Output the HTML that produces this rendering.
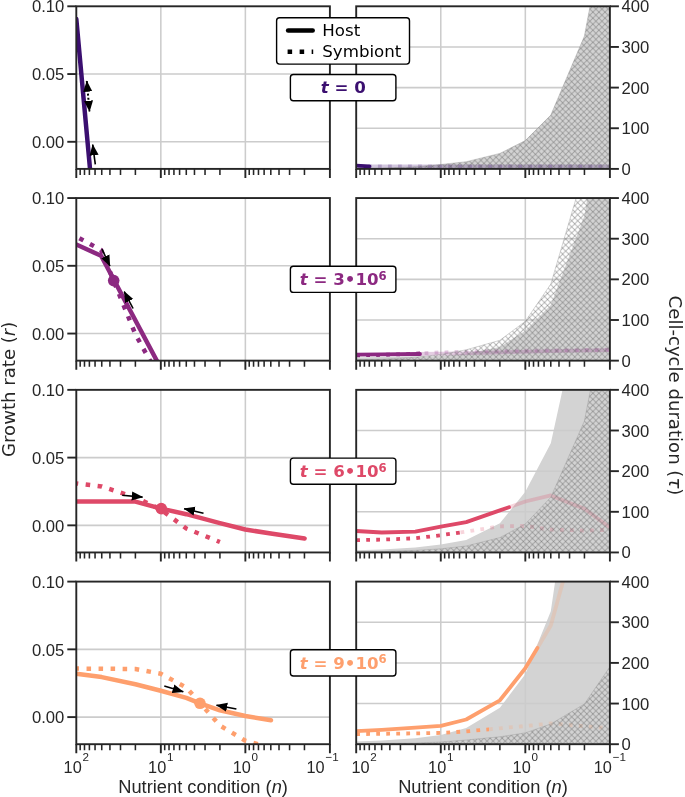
<!DOCTYPE html>
<html lang="en"><head><meta charset="utf-8"><title>Growth rate and cell-cycle duration</title>
<style>html,body{margin:0;padding:0;background:#fff}body{width:685px;height:797px;overflow:hidden}svg{display:block}
.tk{font-family:"Liberation Sans",sans-serif;font-size:16.65px;fill:#262626}
.sup{font-family:"Liberation Sans",sans-serif;font-size:11.65px;fill:#262626}
.xl{font-family:"Liberation Sans",sans-serif;font-size:18.3px;fill:#262626}
.yl{font-family:"DejaVu Sans",sans-serif;font-size:18.1px;fill:#262626}
.lg{font-family:"DejaVu Sans",sans-serif;font-size:16.65px;fill:#000}
.tt{font-family:"DejaVu Sans",sans-serif;font-size:16.65px;font-weight:bold}
</style></head><body>
<svg width="685" height="797" viewBox="0 0 685 797">
<defs>
<pattern id="hx" width="6.05" height="6.05" patternUnits="userSpaceOnUse"><path d="M-1,-1 L7.05,7.05 M-1,5.05 L1,7.05 M5.05,-1 L7.05,1" stroke="#707070" stroke-width="0.9" stroke-opacity="0.53" fill="none"/><path d="M-1,7.05 L7.05,-1 M-1,1 L1,-1 M5.05,7.05 L7.05,5.05" stroke="#707070" stroke-width="0.9" stroke-opacity="0.53" fill="none"/></pattern>
<marker id="ah" viewBox="0 0 10 10" refX="9.5" refY="5" markerWidth="11.3" markerHeight="11.3" markerUnits="userSpaceOnUse" orient="auto-start-reverse"><path d="M0,1.0 L10,5 L0,9.0 Z" fill="#000"/></marker>
<clipPath id="cl0"><rect x="76.3" y="6.3" width="253.6" height="162.6"/></clipPath>
<clipPath id="cr0"><rect x="356.2" y="6.3" width="253.7" height="162.6"/></clipPath>
<clipPath id="cl1"><rect x="76.3" y="198.1" width="253.6" height="162.6"/></clipPath>
<clipPath id="cr1"><rect x="356.2" y="198.1" width="253.7" height="162.6"/></clipPath>
<clipPath id="cl2"><rect x="76.3" y="389.9" width="253.6" height="162.6"/></clipPath>
<clipPath id="cr2"><rect x="356.2" y="389.9" width="253.7" height="162.6"/></clipPath>
<clipPath id="cl3"><rect x="76.3" y="581.6" width="253.6" height="162.6"/></clipPath>
<clipPath id="cr3"><rect x="356.2" y="581.6" width="253.7" height="162.6"/></clipPath>
</defs>
<rect width="685" height="797" fill="#fff"/>
<path d="M160.83,6.30 V168.90 M245.37,6.30 V168.90 M76.30,74.05 H329.90 M76.30,141.80 H329.90" stroke="#cccccc" stroke-width="1.55" fill="none"/>
<g clip-path="url(#cl0)">
<polyline points="76.3,18.9 90.0,168.6 92.0,190.0" fill="none" stroke="#3b0f70" stroke-width="4.5" stroke-linejoin="round" stroke-linecap="round"/>
</g>
<line x1="95.3" y1="164.4" x2="92.7" y2="144.6" stroke="#000" stroke-width="1.6" marker-end="url(#ah)"/>
<line x1="86.8" y1="81.0" x2="89.5" y2="111.4" stroke="#000" stroke-width="2" stroke-dasharray="2 2.2" marker-start="url(#ah)" marker-end="url(#ah)"/>
<g clip-path="url(#cr0)">
<polygon points="356.2,168.9 356.2,168.3 381.7,168.0 415.3,166.8 440.8,164.5 466.2,161.7 499.9,153.4 525.3,140.6 550.8,115.1 584.4,36.1 609.9,-99.0 609.9,168.9" fill="#d3d3d3"/>
</g>
<path d="M440.77,6.30 V168.90 M525.33,6.30 V168.90 M356.20,128.25 H609.90 M356.20,87.60 H609.90 M356.20,46.95 H609.90" stroke="#cccccc" stroke-width="1.55" fill="none"/>
<g clip-path="url(#cr0)">
<polyline points="357.9,166.5 609.9,166.5" fill="none" stroke="#3b0f70" stroke-opacity="0.23" stroke-width="3.8" stroke-dasharray="3.78 6.24" stroke-linejoin="round"/>
<polyline points="369.4,166.3 369.4,166.3 415.3,166.4 609.9,166.4" fill="none" stroke="#3b0f70" stroke-opacity="0.23" stroke-width="3.8" stroke-linejoin="round"/>
<polygon points="356.2,168.9 356.2,168.3 381.7,168.0 415.3,166.8 440.8,164.5 466.2,161.7 499.9,153.4 525.3,140.6 550.8,115.1 584.4,36.1 609.9,-99.0 609.9,168.9" fill="url(#hx)" stroke="#999" stroke-opacity="0.5" stroke-width="0.8"/>
</g>
<polyline clip-path="url(#cr0)" points="356.2,165.6 369.4,166.3 369.4,166.3" fill="none" stroke="#3b0f70" stroke-width="3.8" stroke-linejoin="round" stroke-linecap="round"/>
<rect x="76.30" y="6.30" width="253.60" height="162.60" fill="none" stroke="#262626" stroke-width="1.9"/>
<path d="M76.30,168.90 V177.90 M160.83,168.90 V177.90 M245.37,168.90 V177.90 M329.90,168.90 V177.90" stroke="#262626" stroke-width="1.9" fill="none"/>
<path d="M135.39,168.90 V174.90 M120.50,168.90 V174.90 M109.94,168.90 V174.90 M101.75,168.90 V174.90 M95.05,168.90 V174.90 M89.39,168.90 V174.90 M84.49,168.90 V174.90 M80.17,168.90 V174.90 M219.92,168.90 V174.90 M205.03,168.90 V174.90 M194.47,168.90 V174.90 M186.28,168.90 V174.90 M179.59,168.90 V174.90 M173.93,168.90 V174.90 M169.03,168.90 V174.90 M164.70,168.90 V174.90 M304.45,168.90 V174.90 M289.57,168.90 V174.90 M279.01,168.90 V174.90 M270.81,168.90 V174.90 M264.12,168.90 V174.90 M258.46,168.90 V174.90 M253.56,168.90 V174.90 M249.23,168.90 V174.90" stroke="#262626" stroke-width="1.55" fill="none"/>
<rect x="356.20" y="6.30" width="253.70" height="162.60" fill="none" stroke="#262626" stroke-width="1.9"/>
<path d="M356.20,168.90 V177.90 M440.77,168.90 V177.90 M525.33,168.90 V177.90 M609.90,168.90 V177.90" stroke="#262626" stroke-width="1.9" fill="none"/>
<path d="M415.31,168.90 V174.90 M400.42,168.90 V174.90 M389.85,168.90 V174.90 M381.66,168.90 V174.90 M374.96,168.90 V174.90 M369.30,168.90 V174.90 M364.40,168.90 V174.90 M360.07,168.90 V174.90 M499.88,168.90 V174.90 M484.98,168.90 V174.90 M474.42,168.90 V174.90 M466.22,168.90 V174.90 M459.53,168.90 V174.90 M453.87,168.90 V174.90 M448.96,168.90 V174.90 M444.64,168.90 V174.90 M584.44,168.90 V174.90 M569.55,168.90 V174.90 M558.99,168.90 V174.90 M550.79,168.90 V174.90 M544.09,168.90 V174.90 M538.43,168.90 V174.90 M533.53,168.90 V174.90 M529.20,168.90 V174.90" stroke="#262626" stroke-width="1.55" fill="none"/>
<path d="M67.30,6.30 H76.30" stroke="#262626" stroke-width="1.9"/>
<text class="tk" x="64.3" y="12.4" text-anchor="end">0.10</text>
<path d="M67.30,74.05 H76.30" stroke="#262626" stroke-width="1.9"/>
<text class="tk" x="64.3" y="80.1" text-anchor="end">0.05</text>
<path d="M67.30,141.80 H76.30" stroke="#262626" stroke-width="1.9"/>
<text class="tk" x="64.3" y="147.9" text-anchor="end">0.00</text>
<path d="M609.90,168.90 H618.90" stroke="#262626" stroke-width="1.9"/>
<text class="tk" x="621.5" y="174.8">0</text>
<path d="M609.90,128.25 H618.90" stroke="#262626" stroke-width="1.9"/>
<text class="tk" x="621.5" y="134.2">100</text>
<path d="M609.90,87.60 H618.90" stroke="#262626" stroke-width="1.9"/>
<text class="tk" x="621.5" y="93.6">200</text>
<path d="M609.90,46.95 H618.90" stroke="#262626" stroke-width="1.9"/>
<text class="tk" x="621.5" y="52.9">300</text>
<path d="M609.90,6.30 H618.90" stroke="#262626" stroke-width="1.9"/>
<text class="tk" x="621.5" y="12.3">400</text>
<rect x="290.4" y="74.5" width="105.5" height="26.2" rx="3" ry="3" fill="#fff" stroke="#000" stroke-width="1.4"/>
<text class="tt" x="343.2" y="93.4" text-anchor="middle" fill="#3b0f70"><tspan font-style="italic">t</tspan> = 0</text>
<path d="M160.83,198.05 V360.65 M245.37,198.05 V360.65 M76.30,265.80 H329.90 M76.30,333.55 H329.90" stroke="#cccccc" stroke-width="1.55" fill="none"/>
<g clip-path="url(#cl1)">
<polyline points="76.3,236.5 101.1,250.0 135.4,334.3 160.8,380.0" fill="none" stroke="#8c2981" stroke-width="4.5" stroke-dasharray="4.54 7.49" stroke-dashoffset="8.5" stroke-linejoin="round"/>
<polyline points="76.3,244.5 101.1,255.8 156.6,360.3 165.0,376.0" fill="none" stroke="#8c2981" stroke-width="4.5" stroke-linejoin="round" stroke-linecap="round"/>
<circle cx="113.7" cy="280.6" r="5.8" fill="#8c2981"/>
</g>
<line x1="102.0" y1="249.2" x2="109.9" y2="266.1" stroke="#000" stroke-width="1.6" marker-end="url(#ah)"/>
<line x1="133.1" y1="308.5" x2="124.2" y2="291.6" stroke="#000" stroke-width="1.6" marker-end="url(#ah)"/>
<g clip-path="url(#cr1)">
<polygon points="356.2,360.6 356.2,357.4 381.7,357.1 415.3,356.6 440.8,355.9 466.2,353.6 499.9,346.9 525.3,330.8 550.8,305.1 584.4,215.8 609.9,60.0 609.9,360.6" fill="#d3d3d3"/>
</g>
<path d="M440.77,198.05 V360.65 M525.33,198.05 V360.65 M356.20,320.00 H609.90 M356.20,279.35 H609.90 M356.20,238.70 H609.90" stroke="#cccccc" stroke-width="1.55" fill="none"/>
<g clip-path="url(#cr1)">
<polyline points="424.6,353.2 440.8,352.4 476.0,351.3 556.0,350.3 609.9,349.7" fill="none" stroke="#8c2981" stroke-opacity="0.23" stroke-width="3.8" stroke-dasharray="3.78 6.24" stroke-linejoin="round"/>
<polyline points="420.0,354.0 420.0,354.0 460.0,353.3 500.0,352.3 550.8,351.2 609.9,350.2" fill="none" stroke="#8c2981" stroke-opacity="0.23" stroke-width="3.8" stroke-linejoin="round"/>
<polygon points="356.2,360.6 356.2,359.8 381.7,359.2 415.3,357.2 440.8,354.5 466.2,349.8 499.9,340.3 525.3,321.3 550.8,284.1 584.4,170.0 609.9,0.0 609.9,360.6" fill="url(#hx)" stroke="#999" stroke-opacity="0.5" stroke-width="0.8"/>
</g>
<clipPath id="cs1"><rect x="356.2" y="198.1" width="68.4" height="162.6"/></clipPath>
<polyline clip-path="url(#cs1)" points="356.2,355.4 381.7,354.9 408.0,354.1 420.0,353.4 440.8,352.4 476.0,351.3 556.0,350.3 609.9,349.7" fill="none" stroke="#8c2981" stroke-width="3.8" stroke-dasharray="3.78 6.24" stroke-linejoin="round"/>
<polyline clip-path="url(#cr1)" points="356.2,354.7 381.7,354.4 420.0,354.0 420.0,354.0" fill="none" stroke="#8c2981" stroke-width="3.8" stroke-linejoin="round" stroke-linecap="round"/>
<rect x="76.30" y="198.05" width="253.60" height="162.60" fill="none" stroke="#262626" stroke-width="1.9"/>
<path d="M76.30,360.65 V369.65 M160.83,360.65 V369.65 M245.37,360.65 V369.65 M329.90,360.65 V369.65" stroke="#262626" stroke-width="1.9" fill="none"/>
<path d="M135.39,360.65 V366.65 M120.50,360.65 V366.65 M109.94,360.65 V366.65 M101.75,360.65 V366.65 M95.05,360.65 V366.65 M89.39,360.65 V366.65 M84.49,360.65 V366.65 M80.17,360.65 V366.65 M219.92,360.65 V366.65 M205.03,360.65 V366.65 M194.47,360.65 V366.65 M186.28,360.65 V366.65 M179.59,360.65 V366.65 M173.93,360.65 V366.65 M169.03,360.65 V366.65 M164.70,360.65 V366.65 M304.45,360.65 V366.65 M289.57,360.65 V366.65 M279.01,360.65 V366.65 M270.81,360.65 V366.65 M264.12,360.65 V366.65 M258.46,360.65 V366.65 M253.56,360.65 V366.65 M249.23,360.65 V366.65" stroke="#262626" stroke-width="1.55" fill="none"/>
<rect x="356.20" y="198.05" width="253.70" height="162.60" fill="none" stroke="#262626" stroke-width="1.9"/>
<path d="M356.20,360.65 V369.65 M440.77,360.65 V369.65 M525.33,360.65 V369.65 M609.90,360.65 V369.65" stroke="#262626" stroke-width="1.9" fill="none"/>
<path d="M415.31,360.65 V366.65 M400.42,360.65 V366.65 M389.85,360.65 V366.65 M381.66,360.65 V366.65 M374.96,360.65 V366.65 M369.30,360.65 V366.65 M364.40,360.65 V366.65 M360.07,360.65 V366.65 M499.88,360.65 V366.65 M484.98,360.65 V366.65 M474.42,360.65 V366.65 M466.22,360.65 V366.65 M459.53,360.65 V366.65 M453.87,360.65 V366.65 M448.96,360.65 V366.65 M444.64,360.65 V366.65 M584.44,360.65 V366.65 M569.55,360.65 V366.65 M558.99,360.65 V366.65 M550.79,360.65 V366.65 M544.09,360.65 V366.65 M538.43,360.65 V366.65 M533.53,360.65 V366.65 M529.20,360.65 V366.65" stroke="#262626" stroke-width="1.55" fill="none"/>
<path d="M67.30,198.05 H76.30" stroke="#262626" stroke-width="1.9"/>
<text class="tk" x="64.3" y="204.2" text-anchor="end">0.10</text>
<path d="M67.30,265.80 H76.30" stroke="#262626" stroke-width="1.9"/>
<text class="tk" x="64.3" y="271.9" text-anchor="end">0.05</text>
<path d="M67.30,333.55 H76.30" stroke="#262626" stroke-width="1.9"/>
<text class="tk" x="64.3" y="339.7" text-anchor="end">0.00</text>
<path d="M609.90,360.65 H618.90" stroke="#262626" stroke-width="1.9"/>
<text class="tk" x="621.5" y="366.6">0</text>
<path d="M609.90,320.00 H618.90" stroke="#262626" stroke-width="1.9"/>
<text class="tk" x="621.5" y="325.9">100</text>
<path d="M609.90,279.35 H618.90" stroke="#262626" stroke-width="1.9"/>
<text class="tk" x="621.5" y="285.3">200</text>
<path d="M609.90,238.70 H618.90" stroke="#262626" stroke-width="1.9"/>
<text class="tk" x="621.5" y="244.6">300</text>
<path d="M609.90,198.05 H618.90" stroke="#262626" stroke-width="1.9"/>
<text class="tk" x="621.5" y="204.0">400</text>
<rect x="290.4" y="266.2" width="105.5" height="26.2" rx="3" ry="3" fill="#fff" stroke="#000" stroke-width="1.4"/>
<text class="tt" x="343.2" y="285.2" text-anchor="middle" fill="#8c2981"><tspan font-style="italic">t</tspan> = 3•10<tspan font-size="11.65px" dy="-5.4">6</tspan></text>
<path d="M160.83,389.85 V552.45 M245.37,389.85 V552.45 M76.30,457.60 H329.90 M76.30,525.35 H329.90" stroke="#cccccc" stroke-width="1.55" fill="none"/>
<g clip-path="url(#cl2)">
<polyline points="76.3,483.4 101.7,486.5 135.4,497.4 160.8,509.5 186.3,528.5 219.9,542.0" fill="none" stroke="#de4968" stroke-width="4.5" stroke-dasharray="4.54 7.49" stroke-dashoffset="2.6" stroke-linejoin="round"/>
<polyline points="76.3,501.6 101.7,501.6 135.4,501.6 161.2,508.6 186.3,514.2 219.9,523.2 245.3,529.5 270.8,533.5 304.6,538.4" fill="none" stroke="#de4968" stroke-width="4.5" stroke-linejoin="round" stroke-linecap="round"/>
<circle cx="161.3" cy="508.6" r="5.8" fill="#de4968"/>
</g>
<line x1="122.2" y1="495.2" x2="142.5" y2="497.1" stroke="#000" stroke-width="1.6" marker-end="url(#ah)"/>
<line x1="203.5" y1="513.3" x2="184.1" y2="508.7" stroke="#000" stroke-width="1.6" marker-end="url(#ah)"/>
<g clip-path="url(#cr2)">
<polygon points="356.2,552.5 356.2,550.2 381.7,549.5 415.3,547.5 440.8,544.6 466.2,539.9 499.9,523.3 525.3,491.8 550.8,443.3 584.4,290.0 609.9,100.0 609.9,552.5" fill="#d3d3d3"/>
</g>
<path d="M440.77,389.85 V552.45 M525.33,389.85 V552.45 M356.20,511.80 H609.90 M356.20,471.15 H609.90 M356.20,430.50 H609.90" stroke="#cccccc" stroke-width="1.55" fill="none"/>
<g clip-path="url(#cr2)">
<polyline points="460.5,532.4 466.2,531.6 499.9,526.3 525.3,526.0 550.8,529.6 584.4,530.6 609.9,529.8" fill="none" stroke="#de4968" stroke-opacity="0.23" stroke-width="3.8" stroke-dasharray="3.78 6.24" stroke-linejoin="round"/>
<polyline points="509.0,507.2 525.3,501.5 550.8,495.4 584.4,508.8 609.9,527.5" fill="none" stroke="#de4968" stroke-opacity="0.23" stroke-width="3.8" stroke-linejoin="round"/>
<polygon points="356.2,552.5 356.2,551.9 381.7,551.6 415.3,550.4 440.8,548.8 466.2,546.0 499.9,537.6 525.3,524.0 550.8,497.3 584.4,421.1 609.9,290.0 609.9,552.5" fill="url(#hx)" stroke="#999" stroke-opacity="0.5" stroke-width="0.8"/>
</g>
<clipPath id="cs2"><rect x="356.2" y="389.9" width="104.3" height="162.6"/></clipPath>
<polyline clip-path="url(#cs2)" points="356.2,540.2 381.7,539.6 415.3,538.3 440.8,535.2 466.2,531.6 499.9,526.3 525.3,526.0 550.8,529.6 584.4,530.6 609.9,529.8" fill="none" stroke="#de4968" stroke-width="3.8" stroke-dasharray="3.78 6.24" stroke-linejoin="round"/>
<polyline clip-path="url(#cr2)" points="356.2,531.0 381.7,532.5 415.3,531.7 440.8,526.6 466.2,522.1 499.9,510.4 509.0,507.2" fill="none" stroke="#de4968" stroke-width="3.8" stroke-linejoin="round" stroke-linecap="round"/>
<rect x="76.30" y="389.85" width="253.60" height="162.60" fill="none" stroke="#262626" stroke-width="1.9"/>
<path d="M76.30,552.45 V561.45 M160.83,552.45 V561.45 M245.37,552.45 V561.45 M329.90,552.45 V561.45" stroke="#262626" stroke-width="1.9" fill="none"/>
<path d="M135.39,552.45 V558.45 M120.50,552.45 V558.45 M109.94,552.45 V558.45 M101.75,552.45 V558.45 M95.05,552.45 V558.45 M89.39,552.45 V558.45 M84.49,552.45 V558.45 M80.17,552.45 V558.45 M219.92,552.45 V558.45 M205.03,552.45 V558.45 M194.47,552.45 V558.45 M186.28,552.45 V558.45 M179.59,552.45 V558.45 M173.93,552.45 V558.45 M169.03,552.45 V558.45 M164.70,552.45 V558.45 M304.45,552.45 V558.45 M289.57,552.45 V558.45 M279.01,552.45 V558.45 M270.81,552.45 V558.45 M264.12,552.45 V558.45 M258.46,552.45 V558.45 M253.56,552.45 V558.45 M249.23,552.45 V558.45" stroke="#262626" stroke-width="1.55" fill="none"/>
<rect x="356.20" y="389.85" width="253.70" height="162.60" fill="none" stroke="#262626" stroke-width="1.9"/>
<path d="M356.20,552.45 V561.45 M440.77,552.45 V561.45 M525.33,552.45 V561.45 M609.90,552.45 V561.45" stroke="#262626" stroke-width="1.9" fill="none"/>
<path d="M415.31,552.45 V558.45 M400.42,552.45 V558.45 M389.85,552.45 V558.45 M381.66,552.45 V558.45 M374.96,552.45 V558.45 M369.30,552.45 V558.45 M364.40,552.45 V558.45 M360.07,552.45 V558.45 M499.88,552.45 V558.45 M484.98,552.45 V558.45 M474.42,552.45 V558.45 M466.22,552.45 V558.45 M459.53,552.45 V558.45 M453.87,552.45 V558.45 M448.96,552.45 V558.45 M444.64,552.45 V558.45 M584.44,552.45 V558.45 M569.55,552.45 V558.45 M558.99,552.45 V558.45 M550.79,552.45 V558.45 M544.09,552.45 V558.45 M538.43,552.45 V558.45 M533.53,552.45 V558.45 M529.20,552.45 V558.45" stroke="#262626" stroke-width="1.55" fill="none"/>
<path d="M67.30,389.85 H76.30" stroke="#262626" stroke-width="1.9"/>
<text class="tk" x="64.3" y="396.0" text-anchor="end">0.10</text>
<path d="M67.30,457.60 H76.30" stroke="#262626" stroke-width="1.9"/>
<text class="tk" x="64.3" y="463.7" text-anchor="end">0.05</text>
<path d="M67.30,525.35 H76.30" stroke="#262626" stroke-width="1.9"/>
<text class="tk" x="64.3" y="531.5" text-anchor="end">0.00</text>
<path d="M609.90,552.45 H618.90" stroke="#262626" stroke-width="1.9"/>
<text class="tk" x="621.5" y="558.4">0</text>
<path d="M609.90,511.80 H618.90" stroke="#262626" stroke-width="1.9"/>
<text class="tk" x="621.5" y="517.8">100</text>
<path d="M609.90,471.15 H618.90" stroke="#262626" stroke-width="1.9"/>
<text class="tk" x="621.5" y="477.1">200</text>
<path d="M609.90,430.50 H618.90" stroke="#262626" stroke-width="1.9"/>
<text class="tk" x="621.5" y="436.5">300</text>
<path d="M609.90,389.85 H618.90" stroke="#262626" stroke-width="1.9"/>
<text class="tk" x="621.5" y="395.8">400</text>
<rect x="290.4" y="458.1" width="105.5" height="26.2" rx="3" ry="3" fill="#fff" stroke="#000" stroke-width="1.4"/>
<text class="tt" x="343.2" y="477.0" text-anchor="middle" fill="#de4968"><tspan font-style="italic">t</tspan> = 6•10<tspan font-size="11.65px" dy="-5.4">6</tspan></text>
<path d="M160.83,581.60 V744.20 M245.37,581.60 V744.20 M76.30,649.35 H329.90 M76.30,717.10 H329.90" stroke="#cccccc" stroke-width="1.55" fill="none"/>
<g clip-path="url(#cl3)">
<polyline points="76.3,668.6 101.7,668.7 135.4,669.0 160.8,673.7 186.3,687.5 219.9,725.5 245.3,740.7 270.8,748.0" fill="none" stroke="#fe9f6d" stroke-width="4.5" stroke-dasharray="4.54 7.49" stroke-dashoffset="1.8" stroke-linejoin="round"/>
<polyline points="76.3,673.7 101.7,677.1 135.4,684.2 160.8,690.8 186.3,697.8 200.0,703.3 219.9,710.3 245.3,716.0 271.0,720.2" fill="none" stroke="#fe9f6d" stroke-width="4.5" stroke-linejoin="round" stroke-linecap="round"/>
<circle cx="200.0" cy="703.3" r="5.8" fill="#fe9f6d"/>
</g>
<line x1="164.3" y1="686.1" x2="183.3" y2="691.8" stroke="#000" stroke-width="1.6" marker-end="url(#ah)"/>
<line x1="236.4" y1="709.0" x2="216.5" y2="705.2" stroke="#000" stroke-width="1.6" marker-end="url(#ah)"/>
<g clip-path="url(#cr3)">
<polygon points="356.2,744.2 356.2,741.5 381.7,740.4 415.3,738.3 440.8,735.0 466.2,728.0 499.9,707.7 525.3,674.3 550.8,611.3 584.4,380.0 609.9,100.0 609.9,744.2" fill="#d3d3d3"/>
</g>
<path d="M440.77,581.60 V744.20 M525.33,581.60 V744.20 M356.20,703.55 H609.90 M356.20,662.90 H609.90 M356.20,622.25 H609.90" stroke="#cccccc" stroke-width="1.55" fill="none"/>
<g clip-path="url(#cr3)">
<polyline points="489.0,729.3 499.9,728.3 525.3,726.0 550.8,723.5 584.4,726.2 609.9,728.2" fill="none" stroke="#fe9f6d" stroke-opacity="0.23" stroke-width="3.8" stroke-dasharray="3.78 6.24" stroke-linejoin="round"/>
<polyline points="537.4,648.0 550.8,625.6 584.4,504.0 609.9,400.0" fill="none" stroke="#fe9f6d" stroke-opacity="0.23" stroke-width="3.8" stroke-linejoin="round"/>
<polygon points="356.2,744.2 356.2,743.6 381.7,743.4 415.3,743.0 440.8,742.0 466.2,740.0 499.9,736.8 525.3,732.9 550.8,724.0 584.4,704.0 609.9,666.8 609.9,744.2" fill="url(#hx)" stroke="#999" stroke-opacity="0.5" stroke-width="0.8"/>
</g>
<clipPath id="cs3"><rect x="356.2" y="581.6" width="132.8" height="162.6"/></clipPath>
<polyline clip-path="url(#cs3)" points="356.2,734.1 381.7,733.8 415.3,733.4 440.8,732.9 466.2,731.4 499.9,728.3 525.3,726.0 550.8,723.5 584.4,726.2 609.9,728.2" fill="none" stroke="#fe9f6d" stroke-width="3.8" stroke-dasharray="3.78 6.24" stroke-linejoin="round"/>
<polyline clip-path="url(#cr3)" points="356.2,731.1 381.7,729.8 415.3,727.7 440.8,725.8 466.2,719.5 499.9,700.3 525.3,668.3 537.4,648.0" fill="none" stroke="#fe9f6d" stroke-width="3.8" stroke-linejoin="round" stroke-linecap="round"/>
<rect x="76.30" y="581.60" width="253.60" height="162.60" fill="none" stroke="#262626" stroke-width="1.9"/>
<path d="M76.30,744.20 V753.20 M160.83,744.20 V753.20 M245.37,744.20 V753.20 M329.90,744.20 V753.20" stroke="#262626" stroke-width="1.9" fill="none"/>
<path d="M135.39,744.20 V750.20 M120.50,744.20 V750.20 M109.94,744.20 V750.20 M101.75,744.20 V750.20 M95.05,744.20 V750.20 M89.39,744.20 V750.20 M84.49,744.20 V750.20 M80.17,744.20 V750.20 M219.92,744.20 V750.20 M205.03,744.20 V750.20 M194.47,744.20 V750.20 M186.28,744.20 V750.20 M179.59,744.20 V750.20 M173.93,744.20 V750.20 M169.03,744.20 V750.20 M164.70,744.20 V750.20 M304.45,744.20 V750.20 M289.57,744.20 V750.20 M279.01,744.20 V750.20 M270.81,744.20 V750.20 M264.12,744.20 V750.20 M258.46,744.20 V750.20 M253.56,744.20 V750.20 M249.23,744.20 V750.20" stroke="#262626" stroke-width="1.55" fill="none"/>
<rect x="356.20" y="581.60" width="253.70" height="162.60" fill="none" stroke="#262626" stroke-width="1.9"/>
<path d="M356.20,744.20 V753.20 M440.77,744.20 V753.20 M525.33,744.20 V753.20 M609.90,744.20 V753.20" stroke="#262626" stroke-width="1.9" fill="none"/>
<path d="M415.31,744.20 V750.20 M400.42,744.20 V750.20 M389.85,744.20 V750.20 M381.66,744.20 V750.20 M374.96,744.20 V750.20 M369.30,744.20 V750.20 M364.40,744.20 V750.20 M360.07,744.20 V750.20 M499.88,744.20 V750.20 M484.98,744.20 V750.20 M474.42,744.20 V750.20 M466.22,744.20 V750.20 M459.53,744.20 V750.20 M453.87,744.20 V750.20 M448.96,744.20 V750.20 M444.64,744.20 V750.20 M584.44,744.20 V750.20 M569.55,744.20 V750.20 M558.99,744.20 V750.20 M550.79,744.20 V750.20 M544.09,744.20 V750.20 M538.43,744.20 V750.20 M533.53,744.20 V750.20 M529.20,744.20 V750.20" stroke="#262626" stroke-width="1.55" fill="none"/>
<path d="M67.30,581.60 H76.30" stroke="#262626" stroke-width="1.9"/>
<text class="tk" x="64.3" y="587.7" text-anchor="end">0.10</text>
<path d="M67.30,649.35 H76.30" stroke="#262626" stroke-width="1.9"/>
<text class="tk" x="64.3" y="655.5" text-anchor="end">0.05</text>
<path d="M67.30,717.10 H76.30" stroke="#262626" stroke-width="1.9"/>
<text class="tk" x="64.3" y="723.2" text-anchor="end">0.00</text>
<path d="M609.90,744.20 H618.90" stroke="#262626" stroke-width="1.9"/>
<text class="tk" x="621.5" y="750.2">0</text>
<path d="M609.90,703.55 H618.90" stroke="#262626" stroke-width="1.9"/>
<text class="tk" x="621.5" y="709.5">100</text>
<path d="M609.90,662.90 H618.90" stroke="#262626" stroke-width="1.9"/>
<text class="tk" x="621.5" y="668.9">200</text>
<path d="M609.90,622.25 H618.90" stroke="#262626" stroke-width="1.9"/>
<text class="tk" x="621.5" y="628.2">300</text>
<path d="M609.90,581.60 H618.90" stroke="#262626" stroke-width="1.9"/>
<text class="tk" x="621.5" y="587.6">400</text>
<rect x="290.4" y="649.8" width="105.5" height="26.2" rx="3" ry="3" fill="#fff" stroke="#000" stroke-width="1.4"/>
<text class="tt" x="343.2" y="668.7" text-anchor="middle" fill="#fe9f6d"><tspan font-style="italic">t</tspan> = 9•10<tspan font-size="11.65px" dy="-5.4">6</tspan></text>
<text class="tk" x="76.3" y="772.7" text-anchor="middle" style="font-size:16.3px">10<tspan class="sup" dx="0.8" dy="-11.4">2</tspan></text>
<text class="tk" x="160.8" y="772.7" text-anchor="middle" style="font-size:16.3px">10<tspan class="sup" dx="0.8" dy="-11.4">1</tspan></text>
<text class="tk" x="245.4" y="772.7" text-anchor="middle" style="font-size:16.3px">10<tspan class="sup" dx="0.8" dy="-11.4">0</tspan></text>
<text class="tk" x="322.6" y="772.7" text-anchor="middle" style="font-size:16.3px">10<tspan class="sup" dx="0.8" dy="-11.4">−1</tspan></text>
<text class="xl" x="203.1" y="792.7" text-anchor="middle">Nutrient condition (<tspan font-style="italic">n</tspan>)</text>
<text class="tk" x="364.1" y="772.7" text-anchor="middle" style="font-size:16.3px">10<tspan class="sup" dx="0.8" dy="-11.4">2</tspan></text>
<text class="tk" x="440.8" y="772.7" text-anchor="middle" style="font-size:16.3px">10<tspan class="sup" dx="0.8" dy="-11.4">1</tspan></text>
<text class="tk" x="525.3" y="772.7" text-anchor="middle" style="font-size:16.3px">10<tspan class="sup" dx="0.8" dy="-11.4">0</tspan></text>
<text class="tk" x="609.9" y="772.7" text-anchor="middle" style="font-size:16.3px">10<tspan class="sup" dx="0.8" dy="-11.4">−1</tspan></text>
<text class="xl" x="483.0" y="792.7" text-anchor="middle">Nutrient condition (<tspan font-style="italic">n</tspan>)</text>
<text class="yl" transform="translate(14.6,389.3) rotate(-90)" text-anchor="middle">Growth rate (<tspan font-style="italic">r</tspan>)</text>
<text class="yl" transform="translate(668.6,395.5) rotate(90)" text-anchor="middle">Cell-cycle duration (<tspan font-style="italic">τ</tspan>)</text>
<rect x="276.6" y="17.7" width="132.9" height="46.4" rx="3" ry="3" fill="#fff" stroke="#000" stroke-width="1.4"/>
<line x1="288.1" y1="30.4" x2="312.7" y2="30.4" stroke="#000" stroke-width="4.5" stroke-linecap="round"/>
<line x1="287.6" y1="51.7" x2="313.2" y2="51.7" stroke="#000" stroke-width="4.5" stroke-dasharray="4.54 7.49"/>
<text class="lg" x="322.3" y="35.9">Host</text>
<text class="lg" x="322.3" y="56.9">Symbiont</text>
</svg></body></html>
